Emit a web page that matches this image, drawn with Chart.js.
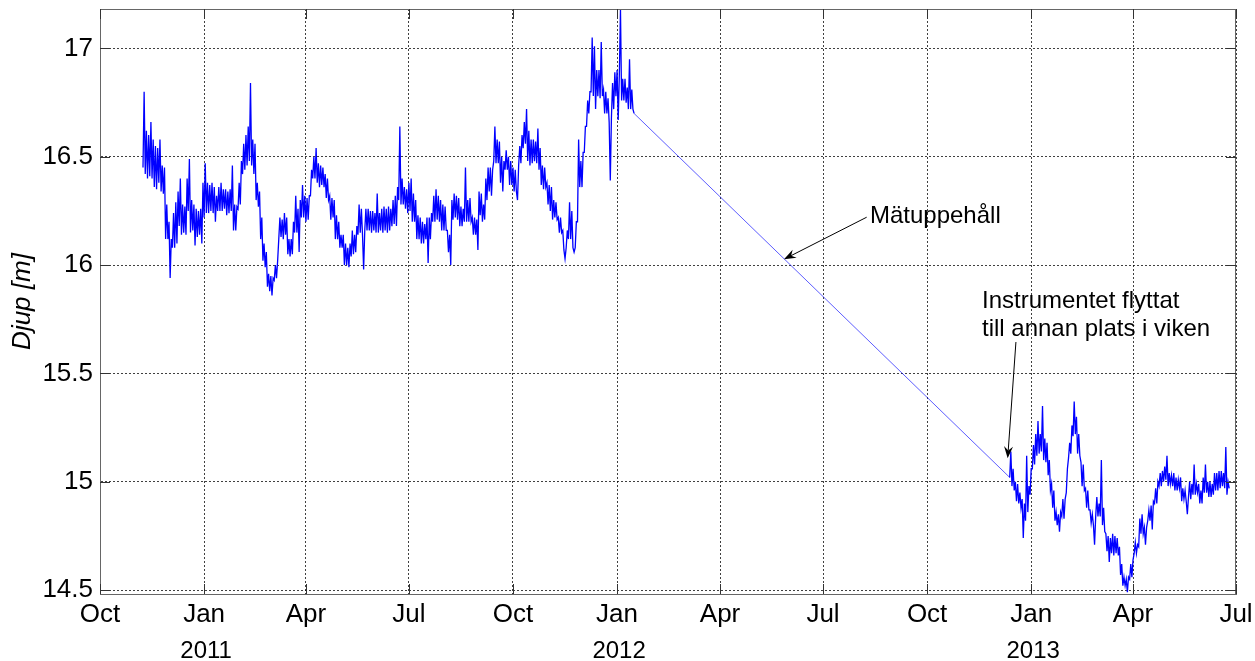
<!DOCTYPE html>
<html lang="sv">
<head>
  <meta charset="UTF-8" />
  <title>Djup</title>
  <style>
    body { margin: 0; background: #fff; }
    canvas { display: block; }
  </style>
</head>
<body>
  <canvas id="djupChart" width="1255" height="661"></canvas>

  <script src="https://cdn.jsdelivr.net/npm/chart.js@4"></script>
  <script>
    // dagar räknade från 1 okt 2010
    const xTickDays = [0, 92, 182, 273, 365, 457, 548, 639, 731, 823, 913, 1004];
    const xTickLabels = ["Oct", "Jan", "Apr", "Jul", "Oct", "Jan", "Apr", "Jul", "Oct", "Jan", "Apr", "Jul"];
    const yearDays = [92, 457, 823];
    const yearLabels = ["2011", "2012", "2013"];
    const yTicks = [14.5, 15, 15.5, 16, 16.5, 17];

    // mätserie 1, ett värde per dag från dag 38 (7 nov 2010)
    const start1 = 38;
    const depth1 = [
      16.45, 16.80, 16.42, 16.62, 16.40, 16.60, 16.41, 16.66, 16.40, 16.58,
      16.36, 16.55, 16.35, 16.54, 16.38, 16.58, 16.34, 16.46, 16.33, 16.45,
      16.12, 16.28, 16.12, 16.20, 15.94, 16.12, 16.08, 16.24, 16.08, 16.29,
      16.10, 16.34, 16.18, 16.40, 16.14, 16.28, 16.15, 16.27, 16.14, 16.40,
      16.25, 16.49, 16.15, 16.30, 16.16, 16.28, 16.09, 16.26, 16.13, 16.25,
      16.14, 16.26, 16.10, 16.38, 16.22, 16.47, 16.24, 16.38, 16.24, 16.37,
      16.25, 16.38, 16.24, 16.36, 16.20, 16.32, 16.25, 16.36, 16.25, 16.38,
      16.25, 16.35, 16.26, 16.35, 16.23, 16.34, 16.24, 16.35, 16.25, 16.46,
      16.16, 16.28, 16.16, 16.27, 16.26, 16.38, 16.28, 16.48, 16.42, 16.56,
      16.44, 16.60, 16.46, 16.64, 16.48, 16.84, 16.46, 16.58, 16.42, 16.56,
      16.30, 16.38, 16.27, 16.34, 16.12, 16.22, 16.02, 16.10, 15.99, 16.06,
      15.90, 15.96, 15.88, 15.95, 15.86, 15.94, 15.93, 16.00, 15.94, 16.02,
      16.12, 16.22, 16.13, 16.21, 16.12, 16.24, 16.14, 16.22, 16.05, 16.12,
      16.04, 16.12, 16.05, 16.20, 16.15, 16.32, 16.15, 16.26, 16.06, 16.30,
      16.22, 16.37, 16.22, 16.32, 16.20, 16.31, 16.21, 16.32, 16.32, 16.44,
      16.40, 16.50, 16.40, 16.54, 16.38, 16.47, 16.36, 16.46, 16.37, 16.45,
      16.36, 16.42, 16.31, 16.40, 16.30, 16.32, 16.21, 16.31, 16.22, 16.30,
      16.12, 16.23, 16.12, 16.20, 16.08, 16.14, 16.08, 16.14, 16.00, 16.10,
      16.00, 16.08, 15.99, 16.10, 16.04, 16.16, 16.05, 16.14, 16.06, 16.18,
      16.14, 16.28, 16.15, 16.26, 16.14, 15.98, 16.16, 16.26, 16.16, 16.26,
      16.16, 16.25, 16.15, 16.25, 16.16, 16.24, 16.15, 16.33, 16.15, 16.24,
      16.16, 16.26, 16.15, 16.27, 16.16, 16.26, 16.15, 16.27, 16.16, 16.26,
      16.18, 16.30, 16.19, 16.32, 16.18, 16.36, 16.30, 16.64, 16.28, 16.40,
      16.28, 16.36, 16.26, 16.35, 16.24, 16.38, 16.25, 16.40, 16.20, 16.33,
      16.20, 16.30, 16.12, 16.23, 16.12, 16.22, 16.10, 16.20, 16.10, 16.19,
      16.12, 16.22, 16.01, 16.22, 16.12, 16.24, 16.20, 16.32, 16.20, 16.35,
      16.21, 16.32, 16.20, 16.30, 16.16, 16.28, 16.16, 16.27, 16.16, 16.16,
      16.06, 16.14, 16.00, 16.30, 16.21, 16.33, 16.22, 16.32, 16.21, 16.31,
      16.18, 16.27, 16.18, 16.26, 16.20, 16.45, 16.20, 16.30, 16.20, 16.31,
      16.20, 16.22, 16.14, 16.22, 16.14, 16.21, 16.07, 16.34, 16.23, 16.33,
      16.20, 16.28, 16.21, 16.40, 16.30, 16.45, 16.34, 16.45, 16.32, 16.44,
      16.48, 16.64, 16.47, 16.58, 16.47, 16.57, 16.38, 16.50, 16.34, 16.48,
      16.44, 16.53, 16.44, 16.50, 16.37, 16.48, 16.37, 16.45, 16.34, 16.44,
      16.34, 16.30, 16.46, 16.55, 16.47, 16.60, 16.54, 16.66, 16.56, 16.72,
      16.48, 16.62, 16.46, 16.58, 16.47, 16.58, 16.48, 16.57, 16.47, 16.63,
      16.44, 16.54, 16.37, 16.46, 16.35, 16.45, 16.36, 16.38, 16.28, 16.37,
      16.25, 16.36, 16.21, 16.30, 16.22, 16.29, 16.21, 16.22, 16.15, 16.22,
      16.15, 16.16, 16.07, 16.03, 16.08, 16.16, 16.12, 16.29, 16.12, 16.25,
      16.08, 16.06, 16.08, 16.20, 16.20, 16.58, 16.36, 16.48, 16.36, 16.52,
      16.52, 16.64, 16.64, 16.76, 16.70, 16.80, 16.80, 17.05, 16.78, 17.01,
      16.72, 16.90, 16.78, 16.90, 16.77, 17.03, 16.78, 16.81, 16.70, 16.80,
      16.70, 16.77, 16.66, 16.39, 16.68, 16.84, 16.72, 16.89, 16.78, 16.90,
      16.67, 16.88, 17.18, 16.76, 16.86, 16.76, 16.86, 16.75, 16.82, 16.72,
      16.95, 16.72, 16.81, 16.72, 16.70
    ];

    // mätserie 2, ett värde per dag från dag 804 (13 dec 2012), nytt läge
    const start2 = 804;
    const depth2 = [
      15.02, 15.14, 14.98, 15.06, 14.96, 15.00, 14.91, 14.99, 14.90, 14.95,
      14.88, 14.92, 14.74, 14.90, 14.82, 15.12, 14.86, 14.98, 14.94, 15.06,
      15.06, 15.17, 15.08, 15.22, 15.12, 15.28, 15.13, 15.22, 15.14, 15.35,
      15.10, 15.20, 15.09, 15.18, 15.03, 15.10, 14.96, 14.99, 14.88, 14.96,
      14.82, 14.86, 14.80, 14.85, 14.77, 14.86, 14.84, 14.92, 14.83, 14.92,
      14.95, 15.06, 15.11, 15.18, 15.13, 15.26, 15.21, 15.37, 15.22, 15.30,
      15.13, 15.22, 15.12, 15.09, 14.98, 15.08, 14.96, 14.97, 14.88, 14.96,
      14.87, 14.87, 14.81, 14.85, 14.80, 14.71, 14.84, 14.93, 14.84, 14.90,
      14.84, 15.10, 14.80, 14.88, 14.77, 14.76, 14.68, 14.75, 14.63, 14.74,
      14.67, 14.76, 14.66, 14.75, 14.67, 14.74, 14.66, 14.70, 14.57, 14.62,
      14.52, 14.56, 14.52, 14.55, 14.49, 14.56, 14.55, 14.62, 14.56, 14.64,
      14.67, 14.72, 14.67, 14.71, 14.70, 14.83, 14.76, 14.85, 14.76, 14.79,
      14.71, 14.79, 14.82, 14.87, 14.82, 14.89, 14.78, 14.91, 14.90, 14.97,
      14.90, 15.00, 14.98, 15.04, 14.98, 15.05, 15.00, 15.07, 15.01, 15.12,
      14.98, 15.04, 14.99, 15.03, 14.98, 15.04, 14.96, 15.02, 14.96, 15.01,
      14.97, 15.02, 14.91, 14.97, 14.92, 14.96, 14.91, 14.85, 14.93, 15.00,
      14.92, 14.99, 14.94, 15.08, 14.94, 14.99, 14.95, 14.99, 14.90, 14.96,
      14.90, 15.02, 14.95, 15.08, 14.95, 15.00, 14.93, 15.00, 14.93, 14.99,
      14.94, 15.04, 14.96, 15.04, 14.96, 15.05, 14.97, 15.05, 14.98, 15.04,
      14.97, 15.16, 14.94, 15.00, 14.97
    ];

    const punkter = [
      ...depth1.map((d, i) => ({ x: start1 + i, y: d })),
      ...depth2.map((d, i) => ({ x: start2 + i, y: d }))
    ];

    // anteckningar i dataenheter (dag, djup)
    const notes = [
      { lines: ["Mätuppehåll"], text: [680.5, 16.196], from: [677.6, 16.221], to: [604.5, 16.027] },
      { lines: ["Instrumentet flyttat", "till annan plats i viken"], text: [779.5, 15.80], from: [809.5, 15.645], to: [802.2, 15.108] }
    ];

    const fontFam = '"Liberation Sans", Arial, sans-serif';
    Chart.defaults.font.family = fontFam;
    Chart.defaults.color = "#000";

    function pil(ctx, x1, y1, x2, y2) {
      const ang = Math.atan2(y2 - y1, x2 - x1);
      const L = 12, W = 4.5, N = 8;
      const c = Math.cos(ang), s = Math.sin(ang);
      ctx.beginPath();
      ctx.moveTo(x1, y1);
      ctx.lineTo(x2 - c * N, y2 - s * N);
      ctx.stroke();
      ctx.beginPath();
      ctx.moveTo(x2, y2);
      ctx.lineTo(x2 - c * L - s * W, y2 - s * L + c * W);
      ctx.lineTo(x2 - c * N, y2 - s * N);
      ctx.lineTo(x2 - c * L + s * W, y2 - s * L - c * W);
      ctx.closePath();
      ctx.fill();
    }

    const extras = {
      id: "extras",
      afterDraw(chart) {
        const { ctx, chartArea: a, scales: { x, y } } = chart;
        ctx.save();
        // ram runt hela axeln
        ctx.strokeStyle = "#666";
        ctx.lineWidth = 1;
        ctx.strokeRect(a.left + 0.5, a.top + 0.5, a.right - a.left - 1, a.bottom - a.top);
        // inåtriktade tickmarkeringar
        ctx.strokeStyle = "#333";
        ctx.beginPath();
        xTickDays.forEach(d => {
          const px = Math.round(x.getPixelForValue(d)) + 0.5;
          ctx.moveTo(px, a.bottom); ctx.lineTo(px, a.bottom - 10);
          ctx.moveTo(px, a.top); ctx.lineTo(px, a.top + 10);
        });
        yTicks.forEach(v => {
          const py = Math.round(y.getPixelForValue(v)) + 0.5;
          ctx.moveTo(a.left, py); ctx.lineTo(a.left + 10, py);
          ctx.moveTo(a.right, py); ctx.lineTo(a.right - 10, py);
        });
        ctx.stroke();

        // årtal under januari
        ctx.fillStyle = "#000";
        ctx.font = "24px " + fontFam;
        ctx.textAlign = "center";
        ctx.textBaseline = "alphabetic";
        yearDays.forEach((d, i) => ctx.fillText(yearLabels[i], x.getPixelForValue(d) + 2, a.bottom + 64));

        // anteckningar med pilar
        ctx.textAlign = "left";
        ctx.strokeStyle = "#000";
        ctx.lineWidth = 1;
        notes.forEach(n => {
          const tx = x.getPixelForValue(n.text[0]);
          const ty = y.getPixelForValue(n.text[1]);
          n.lines.forEach((t, k) => ctx.fillText(t, tx, ty + k * 28));
          pil(ctx, x.getPixelForValue(n.from[0]), y.getPixelForValue(n.from[1]),
                   x.getPixelForValue(n.to[0]), y.getPixelForValue(n.to[1]));
        });
        ctx.restore();
      }
    };

    function nollaPadding(s) {
      s.paddingTop = 0; s.paddingBottom = 0; s.paddingLeft = 0; s.paddingRight = 0;
    }

    // linjen över mätuppehållet ritas tunnare
    const iGlappet = ctx => ctx.p1.parsed.x - ctx.p0.parsed.x > 100;

    const ctx = document.getElementById("djupChart").getContext("2d");
    new Chart(ctx, {
      type: "line",
      data: {
        datasets: [{
          data: punkter,
          borderColor: "#0000ff",
          borderWidth: 1.3,
          pointRadius: 0,
          tension: 0,
          segment: {
            borderWidth: c => iGlappet(c) ? 0.8 : undefined,
            borderColor: c => iGlappet(c) ? "rgba(0,0,255,0.8)" : undefined
          }
        }]
      },
      options: {
        responsive: false,
        animation: false,
        parsing: false,
        layout: { padding: { top: 9, right: 19, left: 0, bottom: 0 } },
        plugins: { legend: { display: false }, tooltip: { enabled: false } },
        scales: {
          x: {
            type: "linear",
            min: 0,
            max: 1004,
            afterBuildTicks: s => { s.ticks = xTickDays.map(v => ({ value: v })); },
            afterFit: s => { s.height = 67; nollaPadding(s); },
            ticks: {
              autoSkip: false,
              maxRotation: 0,
              padding: 5,
              font: { size: 26 },
              callback: v => xTickLabels[xTickDays.indexOf(v)]
            },
            grid: { color: "rgba(0,0,0,0.75)", drawTicks: false },
            border: { color: "#666", dash: [2, 2] }
          },
          y: {
            min: 14.482,
            max: 17.182,
            afterBuildTicks: s => { s.ticks = yTicks.map(v => ({ value: v })); },
            afterFit: s => { s.width = 100; nollaPadding(s); },
            ticks: {
              padding: 7,
              font: { size: 26 },
              callback: v => String(v)
            },
            grid: { color: "rgba(0,0,0,0.75)", drawTicks: false },
            border: { color: "#666", dash: [2, 2] },
            title: {
              display: true,
              text: "Djup [m]",
              padding: { top: 7, bottom: 0 },
              font: { size: 26, style: "italic" }
            }
          }
        }
      },
      plugins: [extras]
    });
  </script>
</body>
</html>
